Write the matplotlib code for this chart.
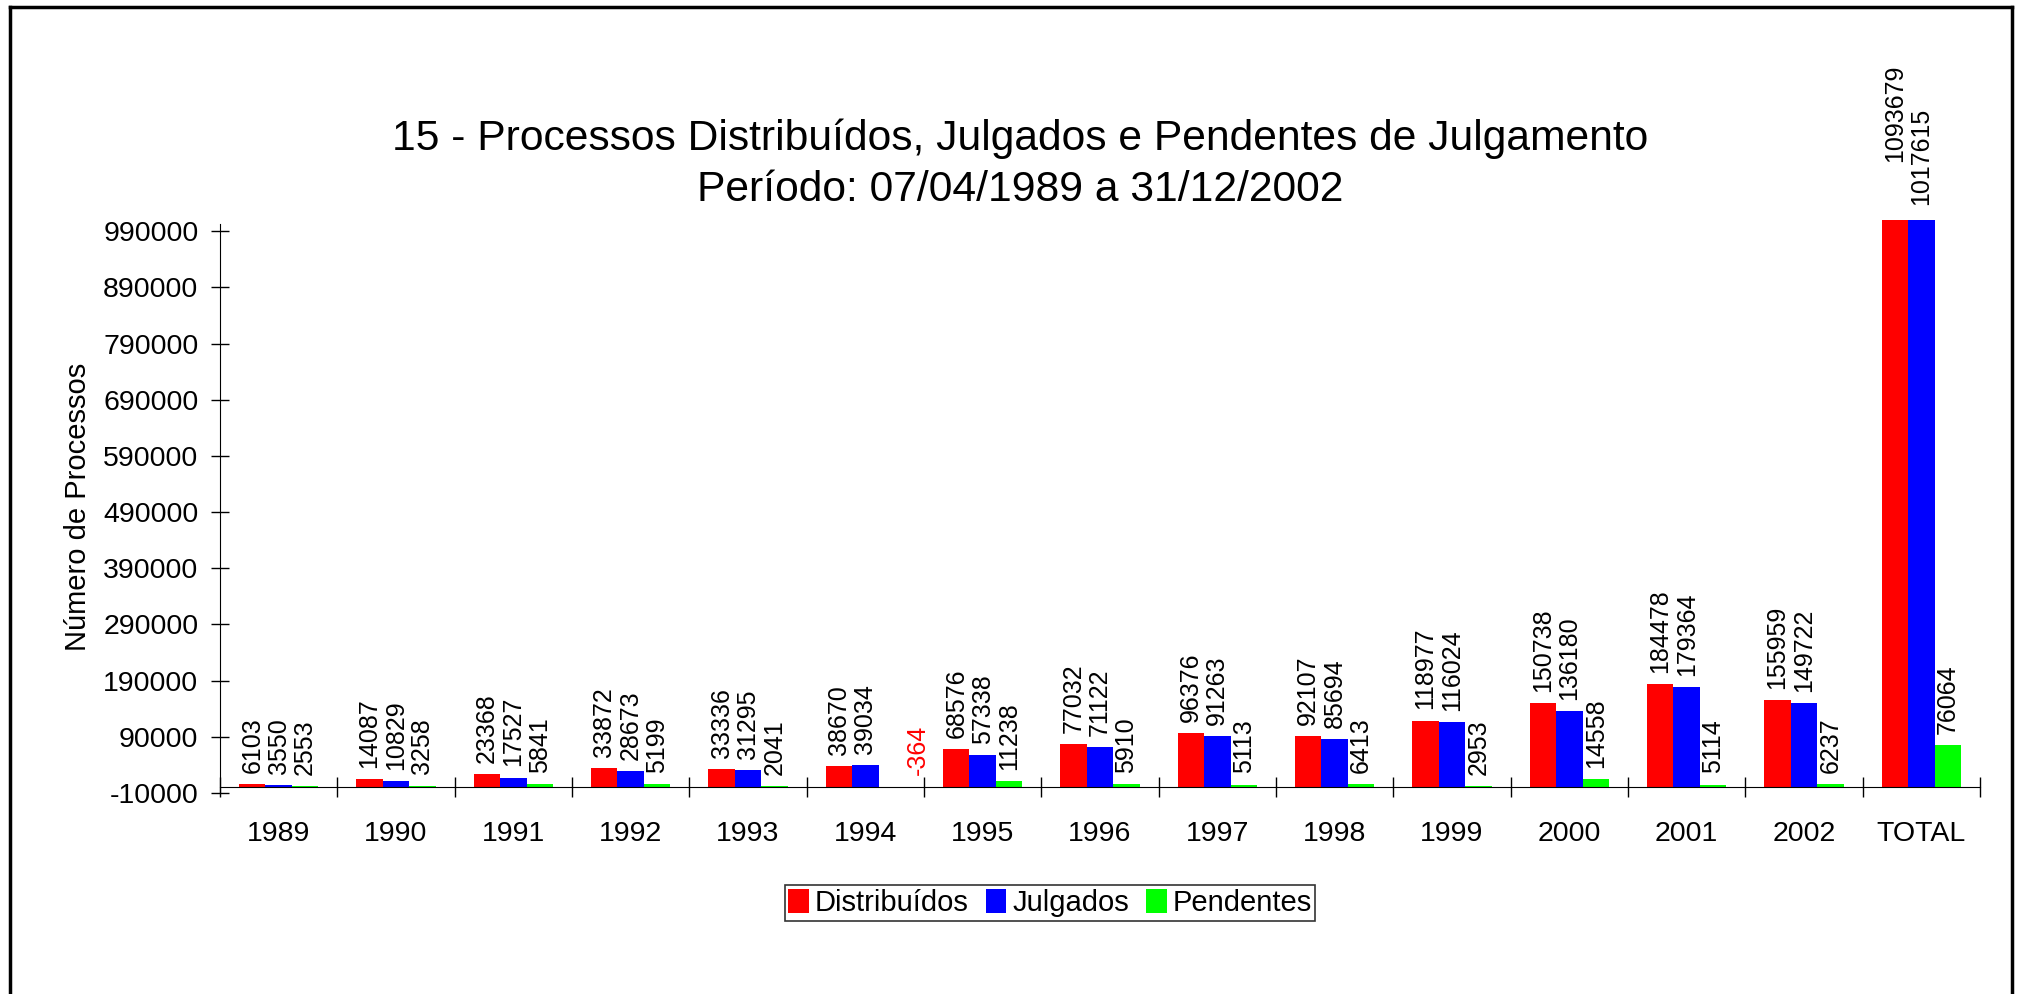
import numpy as np
import matplotlib
matplotlib.use("Agg")
import matplotlib.pyplot as plt
from matplotlib.lines import Line2D

plt.rcParams['font.family'] = ['Liberation Sans', 'DejaVu Sans']

categories = ['1989', '1990', '1991', '1992', '1993', '1994', '1995', '1996',
              '1997', '1998', '1999', '2000', '2001', '2002', 'TOTAL']
distribuidos = [6103, 14087, 23368, 33872, 33336, 38670, 68576, 77032,
                96376, 92107, 118977, 150738, 184478, 155959, 1093679]
julgados = [3550, 10829, 17527, 28673, 31295, 39034, 57338, 71122,
            91263, 85694, 116024, 136180, 179364, 149722, 1017615]
pendentes = [2553, 3258, 5841, 5199, 2041, -364, 11238, 5910,
             5113, 6413, 2953, 14558, 5114, 6237, 76064]
series_names = ['Distribuídos', 'Julgados', 'Pendentes']
colors = ['#ff0000', '#0000ff', '#00ff00']
yticks = np.arange(-10000, 1000000, 100000)

fig = plt.figure(figsize=(20.18, 9.94), dpi=100)
ax = fig.add_axes([220/2018, 1-793/994, 1760/2018, (793-220)/994])

x = np.arange(len(categories))
w = 0.225
for i, (vals, name, c) in enumerate(zip([distribuidos, julgados, pendentes], series_names, colors)):
    pos = x + (i - 1) * w
    ax.bar(pos, vals, width=w, color=c, label=name, zorder=2)
    for xp, v in zip(pos, vals):
        # negative values get a red label pushed to the right of the bar
        off = (19, 9) if v < 0 else (0, 8)
        ax.annotate(str(v), (xp, max(v, 0)), xytext=off, textcoords='offset points',
                    rotation=90, ha='center', va='bottom', fontsize=18,
                    color='red' if v < 0 else 'black', annotation_clip=False)

ax.set_xlim(-0.5, len(categories) - 0.5)
ax.set_ylim(-10000, 1010000)

ax.spines['top'].set_visible(False)
ax.spines['right'].set_visible(False)
ax.spines['bottom'].set_position(('data', 0))
ax.spines['left'].set_bounds(-10000, 1003000)

ax.set_yticks(yticks)
ax.set_yticklabels([str(t) for t in yticks])
ax.tick_params(axis='y', direction='inout', length=13, width=1, labelsize=20.5, pad=9)

ax.set_xticks(x)
ax.set_xticklabels(categories)
ax.set_xticks(np.arange(-0.5, len(categories), 1), minor=True)
ax.tick_params(axis='x', which='major', length=0, labelsize=20.5, pad=24)
ax.tick_params(axis='x', which='minor', direction='inout', length=14, width=1)

ax.set_ylabel('Número de Processos', fontsize=21, labelpad=8)

fig.text(1020/2018, 1-139/994, '15 - Processos Distribuídos, Julgados e Pendentes de Julgamento',
         ha='center', va='center', fontsize=30.7)
fig.text(1020/2018, 1-190/994, 'Período: 07/04/1989 a 31/12/2002',
         ha='center', va='center', fontsize=30.7)

leg = fig.legend(loc='center', bbox_to_anchor=(1050/2018, 1-903/994), ncol=3,
                 fontsize=21, frameon=True, fancybox=False, handlelength=0.7,
                 handleheight=0.9, handletextpad=0.2, columnspacing=0.6,
                 borderpad=0.12, borderaxespad=0)
leg.get_frame().set_edgecolor('black')
leg.get_frame().set_linewidth(1.2)

# outer frame (bottom edge falls outside the picture)
for xs, ys in [([10, 10], [0, 994-7]), ([2012, 2012], [0, 994-7]), ([10, 2012], [994-7, 994-7])]:
    fig.add_artist(Line2D(np.array(xs)/2018, np.array(ys)/994, color='black', lw=2.5,
                          transform=fig.transFigure))

fig.savefig('out.png', dpi=100)
